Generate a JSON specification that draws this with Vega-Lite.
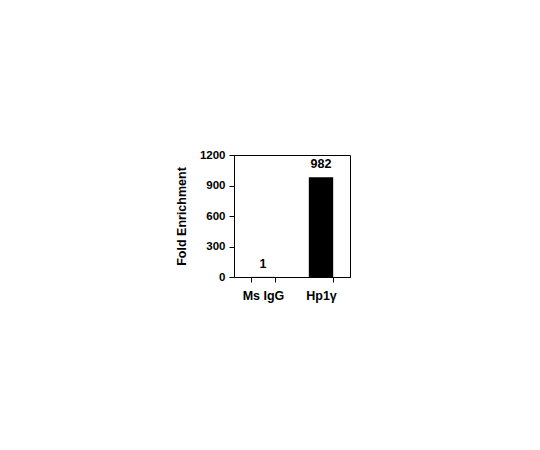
{
  "$schema": "https://vega.github.io/schema/vega-lite/v6.json",
  "autosize": {"type": "none"},
  "padding": {"left": 234, "top": 155, "right": 190, "bottom": 173},
  "width": 116,
  "height": 122,
  "background": "white",
  "config": {
    "view": {"stroke": "black", "strokeWidth": 1},
    "font": "Liberation Sans",
    "axis": {
      "grid": false,
      "domainColor": "black",
      "tickColor": "black",
      "labelColor": "black",
      "titleColor": "black",
      "labelFont": "Liberation Sans",
      "titleFont": "Liberation Sans",
      "labelFontWeight": "bold",
      "titleFontWeight": "bold",
      "labelFontSize": 11.5,
      "titleFontSize": 12.5,
      "tickSize": 5
    }
  },
  "data": {
    "values": [
      {"antibody": "Ms IgG", "enrichment": 1},
      {"antibody": "Hp1γ", "enrichment": 982}
    ]
  },
  "encoding": {
    "x": {
      "field": "antibody",
      "type": "nominal",
      "sort": null,
      "title": null,
      "scale": {"paddingInner": 0.58, "paddingOuter": 0.29},
      "axis": {"labelAngle": 0, "tickBand": "extent", "labelPadding": 7, "labelFontSize": 12.5}
    },
    "y": {
      "field": "enrichment",
      "type": "quantitative",
      "title": "Fold Enrichment",
      "scale": {"domain": [0, 1200], "nice": false},
      "axis": {"values": [0, 300, 600, 900, 1200], "format": "d", "labelPadding": 4, "titlePadding": 11}
    }
  },
  "layer": [
    {"mark": {"type": "bar", "color": "black"}},
    {
      "mark": {"type": "text", "baseline": "bottom", "dy": -6, "fontWeight": "bold", "fontSize": 12.5, "color": "black"},
      "encoding": {"text": {"field": "enrichment", "type": "quantitative"}}
    }
  ]
}
